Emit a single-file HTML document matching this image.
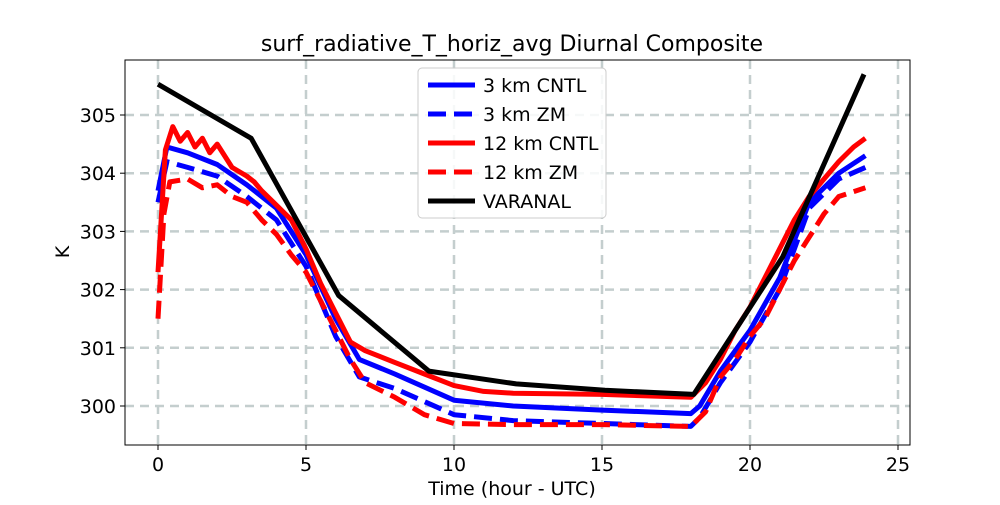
<!DOCTYPE html>
<html><head><meta charset="utf-8"><style>
body{margin:0;background:#fff;font-family:"Liberation Sans","DejaVu Sans",sans-serif}
svg text{font-family:"DejaVu Sans","Liberation Sans",sans-serif}
</style></head><body>
<svg id="chart" width="1000" height="500" viewBox="0 0 1000 500" xmlns="http://www.w3.org/2000/svg">
<rect width="1000" height="500" fill="#fff"/>
<text x="512" y="51" text-anchor="middle" font-size="22">surf_radiative_T_horiz_avg Diurnal Composite</text>
<g id="grid"></g><g id="series"></g><g id="axes"></g>
<text x="512" y="495" text-anchor="middle" font-size="19">Time (hour - UTC)</text>
<text x="0" y="0" transform="translate(69,252) rotate(-90)" text-anchor="middle" font-size="19">K</text>
<g id="legend"></g>
</svg>
<script>
const xTicks=[0,5,10,15,20,25];
const yTicks=[300,301,302,303,304,305];
const varT=[0,3.15,6.1,9.15,12.1,15.1,18.1,21.1,23.85];
const varV=[305.53,304.6,301.9,300.6,300.38,300.27,300.2,302.56,305.7];
const b1T=[0,0.3,1,2,3,4,5,6,6.8,8,10,12,15,18,18.3,19,20,21,22,23,23.9];
const b1V=[303.7,304.45,304.35,304.15,303.8,303.4,302.6,301.5,300.8,300.55,300.1,300.0,299.93,299.87,300.0,300.6,301.3,302.2,303.5,304.0,304.3];
const b2V=[303.5,304.2,304.1,303.95,303.6,303.2,302.4,301.2,300.5,300.3,299.85,299.75,299.7,299.65,299.8,300.4,301.1,302.0,303.4,303.9,304.1];
const r1T=[0,0.25,0.5,0.75,1,1.25,1.5,1.75,2,2.5,3,3.25,3.5,4,4.5,5,5.5,6,6.5,7,8,9,10,11,12,15,18,18.5,19,19.5,20,20.5,21,21.5,22,22.5,23,23.5,23.9];
const r1V=[302.3,304.4,304.8,304.55,304.7,304.45,304.6,304.35,304.5,304.1,303.95,303.85,303.7,303.45,303.2,302.7,302.1,301.6,301.1,300.95,300.75,300.55,300.35,300.25,300.22,300.2,300.15,300.4,300.8,301.3,301.7,302.2,302.7,303.2,303.6,303.9,304.2,304.45,304.6];
const r2T=[0,0.2,0.4,1,1.5,2,2.5,3,3.5,4,4.5,5,5.5,6,6.5,7,8,9,10,12,15,18,18.5,19,19.5,20,20.5,21,21.5,22,22.5,23,23.9];
const r2V=[301.5,303.3,303.85,303.9,303.75,303.8,303.6,303.5,303.2,302.95,302.6,302.3,301.8,301.3,300.8,300.4,300.15,299.85,299.7,299.68,299.68,299.65,299.9,300.5,300.8,301.2,301.5,302.0,302.5,302.9,303.3,303.6,303.75];
const L=125,R=910,T=60,B=445;
const xs=h=>158+29.6*h, ys=v=>406-58.2*(v-300);
const NS="http://www.w3.org/2000/svg";
function mk(p,tag,a){const e=document.createElementNS(NS,tag);for(const k in a)e.setAttribute(k,a[k]);p.appendChild(e);return e;}
const grid=document.getElementById('grid'),axes=document.getElementById('axes'),ser=document.getElementById('series'),leg=document.getElementById('legend');
xTicks.forEach(t=>{const x=xs(t);
 const g=mk(grid,'line',{x1:x,x2:x,y1:T,y2:B,stroke:'#c4cece',"stroke-width":2.5,"stroke-dasharray":"9 6"});
 
 
 mk(axes,'line',{x1:x,x2:x,y1:B,y2:B+5,stroke:'#000'});
 const tx=mk(axes,'text',{x:x,y:B+26,"text-anchor":"middle","font-size":19});tx.textContent=t;
 
 });
yTicks.forEach(t=>{const y=ys(t);
 const g=mk(grid,'line',{x1:L,x2:R,y1:y,y2:y,stroke:'#c4cece',"stroke-width":2.5,"stroke-dasharray":"9 6"});
 
 
 mk(axes,'line',{x1:L-5,x2:L,y1:y,y2:y,stroke:'#000'});
 const tx=mk(axes,'text',{x:L-9,y:y+7,"text-anchor":"end","font-size":19});tx.textContent=t;
 
 });
const frame=mk(axes,'rect',{x:L,y:T,width:R-L,height:B-T,fill:'none',stroke:'#000',"stroke-width":1});


function line(T_,V,col,dash,name){const d=T_.map((t,i)=>(i?'L':'M')+xs(t).toFixed(1)+' '+ys(V[i]).toFixed(1)).join('');
 const p=mk(ser,'path',{d:d,fill:'none',stroke:col,"stroke-width":5,"stroke-linejoin":"round"});
 if(dash)p.setAttribute('stroke-dasharray','18 8');
 
 }
line(b1T,b1V,'#0000ff',false,'series-3km-cntl');
line(b1T,b2V,'#0000ff',true,'series-3km-zm');
line(r1T,r1V,'#ff0000',false,'series-12km-cntl');
line(r2T,r2V,'#ff0000',true,'series-12km-zm');
line(varT,varV,'#000000',false,'series-varanal');
const lb=mk(leg,'rect',{x:418,y:68,width:188,height:150,rx:4,fill:'#fff',"fill-opacity":0.85,stroke:'#ccc'});


const entries=[['3 km CNTL','#0000ff',false],['3 km ZM','#0000ff',true],['12 km CNTL','#ff0000',false],['12 km ZM','#ff0000',true],['VARANAL','#000',false]];
entries.forEach((e,i)=>{const y=85+29*i;
 const l=mk(leg,'line',{x1:428,x2:475,y1:y,y2:y,stroke:e[1],"stroke-width":5});
 if(e[2])l.setAttribute('stroke-dasharray','18 8');
 
 
 const t=mk(leg,'text',{x:483,y:y+7,"font-size":19});t.textContent=e[0];
 
 });
</script>
</body></html>
